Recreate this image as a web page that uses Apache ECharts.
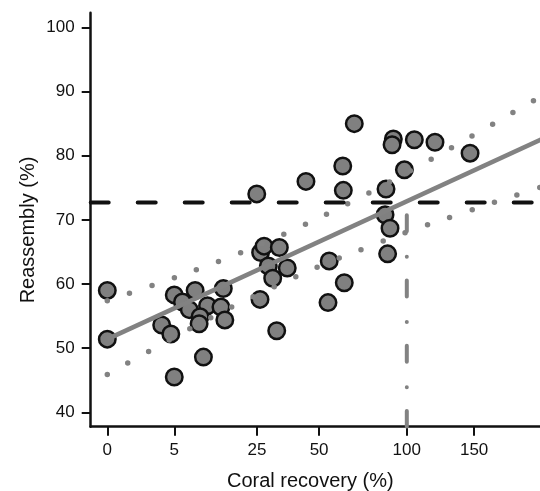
<!DOCTYPE html>
<html>
<head>
<meta charset="utf-8">
<script src="https://cdn.jsdelivr.net/npm/echarts@6/dist/echarts.min.js"></script>
<style>
html,body{margin:0;padding:0;background:#fff;}
#chart{width:540px;height:491px;}
</style>
</head>
<body>
<div id="chart"></div>
<script>
// ---- data (x in % coral recovery, y in % reassembly) ----
const xTickLabels = [0, 5, 25, 50, 100, 150];
const yTickLabels = [40, 50, 60, 70, 80, 90, 100];

const coralRecovery = [0, 0, 5.0, 8.6, 15.0, 6.3, 7.5, 11.2, 14.4, 15.4, 9.6, 9.4, 3.3, 4.5, 10.3, 5.0,
  24.9, 26.2, 27.4, 33.0, 28.9, 36.1, 30.5, 26.0, 32.0, 54.9, 54.3, 62.6, 44.0, 61.8, 62.1,
  68.0, 91.2, 90.4, 105.1, 119.7, 146.7, 98.4, 86.6, 86.0, 89.1, 87.6];
const reassembly = [59.0, 51.4, 58.3, 59.0, 59.3, 57.2, 56.0, 56.6, 56.4, 54.4, 54.9, 53.8, 53.6, 52.2, 48.6, 45.5,
  74.05, 64.9, 65.9, 65.7, 62.8, 62.5, 60.9, 57.6, 52.7, 63.6, 57.1, 60.2, 76.0, 78.4, 74.6,
  85.0, 82.6, 81.7, 82.5, 82.1, 80.4, 77.8, 74.8, 70.8, 68.7, 64.7];

const fitX = [0, 212];
const fitY = [51.4, 82.7];

const upperX = [0, 2.30, 14.09, 35.5, 65.6, 104.4, 151.3, 206.2, 212];
const upperY = [57.4, 59.8, 63.6, 67.9, 72.7, 77.9, 83.4, 88.9, 89.3];
const lowerX = [0, 1.94, 7.76, 17.6, 31.7, 50.3, 73.3, 100, 133.9, 190.7, 212];
const lowerY = [45.9, 49.5, 53.1, 56.5, 59.7, 62.8, 65.5, 68.1, 70.6, 74.1, 75.2];

const thresholdY = 72.7;   // horizontal dashed line
const thresholdX = 100;    // vertical dash-dot line

// ---- axis transform (square-root scale) ----
const tx = v => Math.sqrt(v);
const X_MIN = -0.554, X_MAX = 14.447;
const Y_MIN = 37.75, Y_MAX = 102.3;

const pairs = (xs, ys) => xs.map((x, i) => [tx(x), ys[i]]);

const GREY = '#828282';
const FONT = '"Liberation Sans", Arial, Helvetica, sans-serif';

const chart = echarts.init(document.getElementById('chart'), null, {renderer: 'canvas'});
chart.setOption({
  animation: false,
  backgroundColor: '#fff',
  grid: {left: 90.7, right: 0, top: 12.7, bottom: 64.3, containLabel: false, outerBoundsMode: 'none'},
  xAxis: {
    type: 'value', min: X_MIN, max: X_MAX,
    axisLine: {show: true, onZero: false, lineStyle: {color: '#111', width: 2.5}},
    axisTick: {show: true, length: 9, lineStyle: {color: '#111', width: 2}, customValues: xTickLabels.map(tx)},
    axisLabel: {show: true, margin: 15, fontSize: 17, fontFamily: FONT, color: '#111',
      customValues: xTickLabels.map(tx), formatter: v => String(Math.round(v * v))},
    splitLine: {show: false}
  },
  yAxis: {
    type: 'value', min: Y_MIN, max: Y_MAX,
    axisLine: {show: true, onZero: false, lineStyle: {color: '#111', width: 2.5}},
    axisTick: {show: true, length: 9, lineStyle: {color: '#111', width: 2}, customValues: yTickLabels},
    axisLabel: {show: true, margin: 16, fontSize: 17, fontFamily: FONT, color: '#111',
      customValues: yTickLabels, formatter: v => String(Math.round(v))},
    splitLine: {show: false}
  },
  graphic: [
    {type: 'text', x: 310.3, y: 481, silent: true,
      style: {text: 'Coral recovery (%)', font: '20px ' + FONT, fill: '#111', textAlign: 'center', textVerticalAlign: 'middle'}},
    {type: 'text', x: 28, y: 230, rotation: Math.PI / 2, silent: true,
      style: {text: 'Reassembly (%)', font: '20px ' + FONT, fill: '#111', textAlign: 'center', textVerticalAlign: 'middle'}}
  ],
  series: [
    {
      type: 'scatter', data: pairs(coralRecovery, reassembly),
      symbol: 'circle', symbolSize: 16.5, silent: true,
      itemStyle: {color: '#808080', borderColor: '#111', borderWidth: 2.5, opacity: 1}
    },
    {
      type: 'line', data: pairs(fitX, fitY), showSymbol: false, silent: true,
      lineStyle: {color: GREY, width: 4.5, cap: 'butt'}
    },
    {
      type: 'line', data: pairs(upperX, upperY), showSymbol: false, silent: true, smooth: 0.4,
      lineStyle: {color: GREY, width: 5.5, type: [0, 23.6], cap: 'round'}
    },
    {
      type: 'line', data: pairs(lowerX, lowerY), showSymbol: false, silent: true, smooth: 0.4,
      lineStyle: {color: GREY, width: 5.5, type: [0, 23.6], cap: 'round'}
    },
    {
      type: 'line', data: [[X_MIN + 0.0001, thresholdY], [X_MAX, thresholdY]], showSymbol: false, silent: true,
      lineStyle: {color: '#111', width: 4, type: [18, 29], cap: 'round'}
    },
    {
      type: 'line', data: [[tx(thresholdX), thresholdY], [tx(thresholdX), Y_MIN]], showSymbol: false, silent: true,
      lineStyle: {color: GREY, width: 4, type: [16, 25.5, 0, 23.8], dashOffset: 52.7, cap: 'round'}
    }
  ]
});
</script>
</body>
</html>
